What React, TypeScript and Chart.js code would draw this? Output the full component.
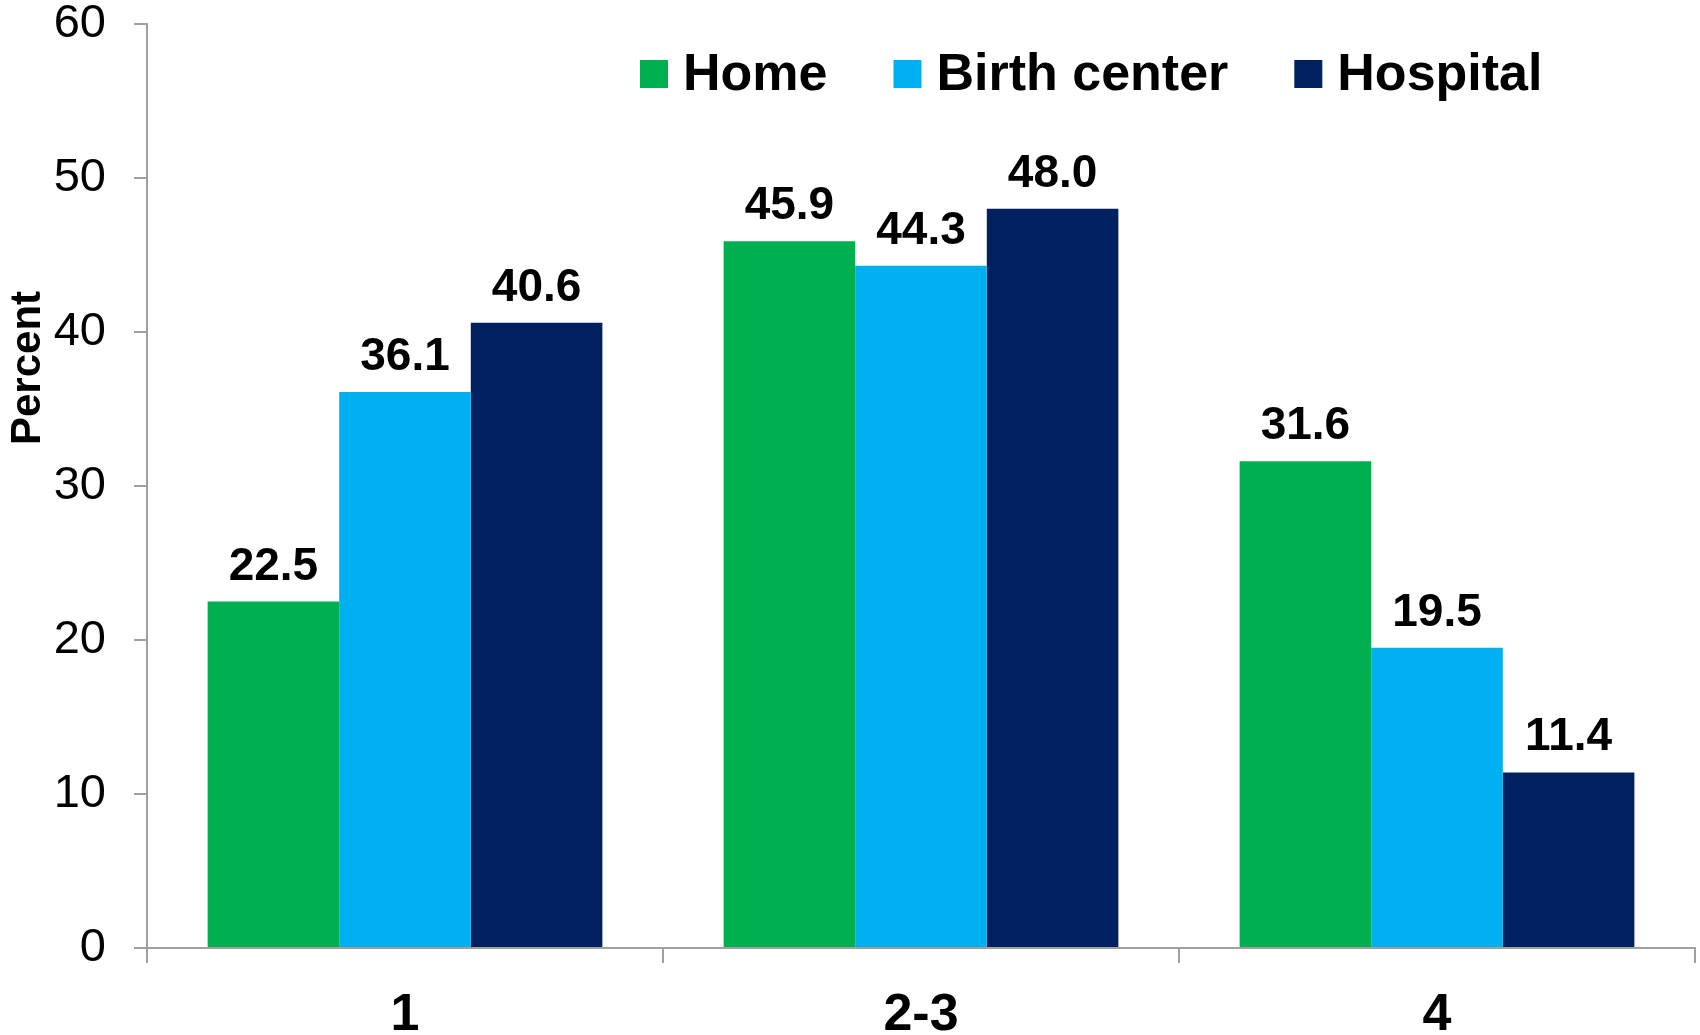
import React, { useEffect, useRef } from "react";
import { Chart, registerables } from "chart.js";

Chart.register(...registerables);

// Parity groups and percentages by place of birth
const categories = ["1", "2-3", "4"];
const seriesNames = ["Home", "Birth center", "Hospital"];
const homeValues = [22.5, 45.9, 31.6];
const birthCenterValues = [36.1, 44.3, 19.5];
const hospitalValues = [40.6, 48.0, 11.4];
const yTicks = [0, 10, 20, 30, 40, 50, 60];
const yAxisTitle = "Percent";

const seriesColors = ["#00B050", "#00B0F0", "#002060"];
const FONT = "'Liberation Sans', Arial, Helvetica, sans-serif";
const AXIS_GRAY = "#a0a0a0";

// Value labels above each bar
const valueLabels = {
  id: "valueLabels",
  afterDatasetsDraw(chart: any) {
    const ctx = chart.ctx;
    ctx.save();
    ctx.font = `bold 46px ${FONT}`;
    ctx.fillStyle = "#000";
    ctx.textAlign = "center";
    ctx.textBaseline = "alphabetic";
    chart.data.datasets.forEach((ds: any, i: number) => {
      const meta = chart.getDatasetMeta(i);
      meta.data.forEach((bar: any, j: number) => {
        const v = ds.data[j] as number;
        ctx.fillText(v.toFixed(1), bar.x, bar.y - 22);
      });
    });
    ctx.restore();
  },
};

// Legend row drawn inside the plot area, plus the rotated y-axis title
const overlayText = {
  id: "overlayText",
  afterDraw(chart: any) {
    const ctx = chart.ctx;
    ctx.save();
    // legend
    ctx.font = `bold 52px ${FONT}`;
    ctx.fillStyle = "#000";
    ctx.textAlign = "left";
    ctx.textBaseline = "middle";
    let x = 640;
    const cy = 74;
    const box = 28;
    chart.data.datasets.forEach((ds: any) => {
      ctx.fillStyle = ds.backgroundColor;
      ctx.fillRect(x, cy - box / 2, box, box);
      ctx.fillStyle = "#000";
      const tx = x + box + 15;
      ctx.fillText(ds.label, tx, cy + 2);
      x = tx + ctx.measureText(ds.label).width + 66;
    });
    // y-axis title
    ctx.translate(28, 368);
    ctx.rotate(-Math.PI / 2);
    ctx.font = `bold 42px ${FONT}`;
    ctx.textAlign = "center";
    ctx.textBaseline = "middle";
    ctx.fillText(yAxisTitle, 0, 0);
    ctx.restore();
  },
};

export default function App() {
  const canvasRef = useRef<HTMLCanvasElement | null>(null);

  useEffect(() => {
    if (!canvasRef.current) return;
    const valueSets = [homeValues, birthCenterValues, hospitalValues];
    const chart = new Chart(canvasRef.current, {
      type: "bar",
      data: {
        labels: categories,
        datasets: seriesNames.map((name, i) => ({
          label: name,
          data: valueSets[i],
          backgroundColor: seriesColors[i],
          borderWidth: 0,
          categoryPercentage: 0.765,
          barPercentage: 1,
        })),
      },
      options: {
        animation: false,
        responsive: false,
        devicePixelRatio: 1,
        layout: { padding: { left: 0, top: 24, right: 5, bottom: 0 } },
        plugins: {
          legend: { display: false },
          tooltip: { enabled: false },
        },
        scales: {
          x: {
            grid: {
              offset: true,
              drawOnChartArea: false,
              drawTicks: true,
              tickLength: 15,
              color: AXIS_GRAY,
              lineWidth: 2,
            },
            border: { display: true, color: AXIS_GRAY, width: 2 },
            ticks: {
              color: "#000",
              font: { family: FONT, size: 52, weight: "bold", lineHeight: 1 },
              padding: 27,
              maxRotation: 0,
            },
            afterFit: (scale: any) => {
              scale.height = 87;
            },
          },
          y: {
            min: 0,
            max: 60,
            afterBuildTicks: (scale: any) => {
              scale.ticks = yTicks.map((v) => ({ value: v }));
            },
            grid: {
              drawOnChartArea: false,
              drawTicks: true,
              tickLength: 13,
              color: AXIS_GRAY,
              lineWidth: 2,
            },
            border: { display: true, color: AXIS_GRAY, width: 2 },
            ticks: {
              color: "#000",
              font: { family: FONT, size: 47, lineHeight: 1 },
              padding: 28,
            },
            afterFit: (scale: any) => {
              scale.width = 147;
              scale.paddingTop = 0;
              scale.paddingBottom = 0;
            },
          },
        },
      },
      plugins: [valueLabels, overlayText],
    });
    return () => chart.destroy();
  }, []);

  return (
    <div style={{ position: "fixed", left: 0, top: 0, width: 1700, height: 1035, background: "#fff" }}>
      <canvas ref={canvasRef} width={1700} height={1035} />
    </div>
  );
}
